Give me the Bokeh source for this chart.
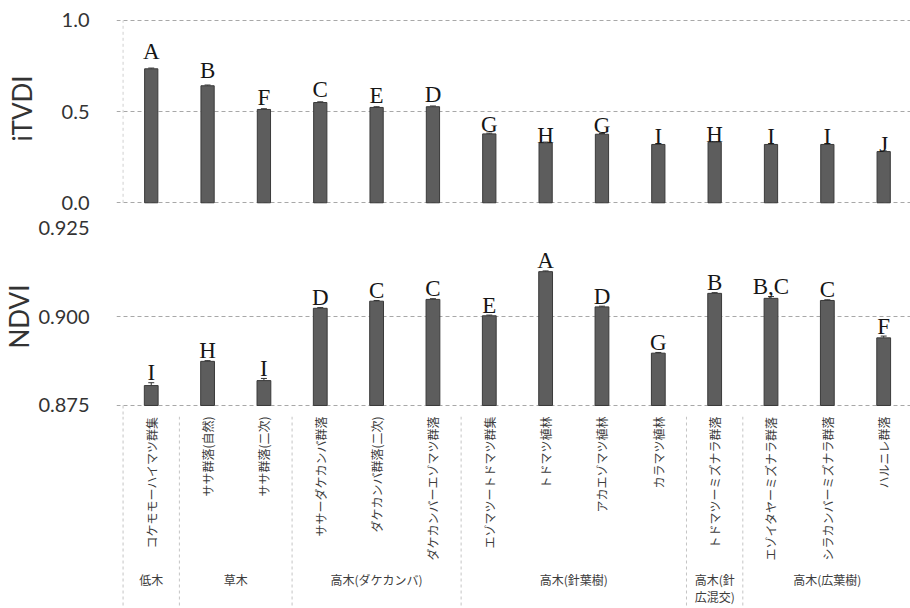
from bokeh.plotting import figure
from bokeh.layouts import column
from bokeh.models import (ColumnDataSource, FixedTicker, Range1d, Whisker,
                          NumeralTickFormatter, TeeHead)
from bokeh.embed import file_html
from bokeh.resources import INLINE
from bokeh.core.properties import value

# ---------------- data ----------------
categories = ["コケモモーハイマツ群集", "ササ群落(自然)", "ササ群落(二次)",
              "ササーダケカンバ群落", "ダケカンバ群落(二次)", "ダケカンバーエゾマツ群落",
              "エゾマツートドマツ群集", "トドマツ植林", "アカエゾマツ植林", "カラマツ植林",
              "トドマツーミズナラ群落", "エゾイタヤーミズナラ群落",
              "シラカンバーミズナラ群落", "ハルニレ群落"]
groups = ["低木", "草木", "高木(ダケカンバ)", "高木(針葉樹)", "高木(針\n広混交)", "高木(広葉樹)"]
group_sizes = [1, 2, 3, 4, 1, 3]

itvdi = [0.735, 0.642, 0.512, 0.550, 0.523, 0.527, 0.378, 0.329, 0.376, 0.320,
         0.332, 0.320, 0.320, 0.281]
itvdi_err = [0.004, 0.004, 0.004, 0.004, 0.004, 0.004, 0.004, 0.004, 0.004, 0.004,
             0.004, 0.004, 0.004, 0.004]
itvdi_letters = ["A", "B", "F", "C", "E", "D", "G", "H", "G", "I", "H", "I", "I", "J"]

ndvi = [0.8806, 0.8874, 0.8820, 0.9023, 0.9043, 0.9048, 0.9002, 0.9126, 0.9027,
        0.8897, 0.9065, 0.9051, 0.9045, 0.8940]
ndvi_err = [0.0008, 0.0002, 0.0006, 0.0002, 0.0002, 0.0002, 0.0002, 0.0002, 0.0002,
            0.0002, 0.0002, 0.0005, 0.0002, 0.0005]
ndvi_letters = ["I", "H", "I", "D", "C", "C", "E", "A", "D", "G", "B", "B,C", "C", "F"]

itvdi_ticks = [0.0, 0.5, 1.0]
ndvi_ticks = [0.875, 0.900, 0.925]

# ---------------- style ----------------
BAR = "#5d5d5d"
BAR_LINE = "#3a3a3a"
GRID = "#a8a8a8"
SERIF = value("Liberation Serif")
SANS = "Lato"
CJK = value("Noto Sans CJK JP")
TXT = "#3c3c3c"

x = list(range(len(categories)))
XR = (-0.6165, 13.476)


def style(p, ticks, fmt, label, label_standoff):
    p.xaxis.visible = False
    p.xgrid.grid_line_color = None
    p.yaxis.ticker = FixedTicker(ticks=ticks)
    p.yaxis.formatter = NumeralTickFormatter(format=fmt)
    p.yaxis.axis_label = label
    p.yaxis.axis_label_text_font = SANS
    p.yaxis.axis_label_text_font_size = "26px"
    p.yaxis.axis_label_text_font_style = "normal"
    p.yaxis.axis_label_text_color = "#333333"
    p.yaxis.axis_label_standoff = label_standoff
    p.yaxis.major_label_text_font = SANS
    p.yaxis.major_label_text_font_size = "20px"
    p.yaxis.major_label_text_color = "#333333"
    p.yaxis.major_label_standoff = 21
    p.yaxis.major_tick_line_color = None
    p.yaxis.minor_tick_line_color = None
    p.yaxis.axis_line_color = None
    p.ygrid.grid_line_color = GRID
    p.ygrid.grid_line_dash = "4 3"
    p.ygrid.grid_line_width = 1
    p.outline_line_color = None
    p.background_fill_color = "white"
    p.border_fill_color = "white"


# ---------------- top panel: iTVDI ----------------
top = figure(width=910, height=216, output_backend="svg", toolbar_location=None,
             x_range=Range1d(*XR), y_range=Range1d(-0.0313, 1.0658),
             min_border_left=110, min_border_right=0, min_border_top=8,
             min_border_bottom=8)
style(top, itvdi_ticks, "0.0", "iTVDI", 21)

src_t = ColumnDataSource(dict(
    x=x, top=itvdi,
    upper=[v + e for v, e in zip(itvdi, itvdi_err)],
    lower=itvdi,
    label_y=[v * 1.13 for v in itvdi],
    letter=itvdi_letters))

top.segment(x0=[-0.5], y0=[itvdi_ticks[0]], x1=[-0.5], y1=[itvdi_ticks[-1]],
            line_color="#d0d0d0", line_dash="3 3", line_width=1)
top.vbar(x="x", top="top", bottom=0, width=0.235, source=src_t,
         fill_color=BAR, line_color=BAR_LINE, line_width=1)
top.add_layout(Whisker(base="x", upper="upper", lower="lower", source=src_t,
                       line_color="#333333", line_width=1,
                       upper_head=TeeHead(size=6, line_color="#333333"),
                       lower_head=None))
top.text(x="x", y="label_y", text="letter", source=src_t,
         text_font=SERIF, text_font_size="23px", text_color="#161616",
         text_align="center", text_baseline="alphabetic")

# ---------------- middle panel: NDVI ----------------
base = ndvi_ticks[0]
mid = figure(width=910, height=200, output_backend="svg", toolbar_location=None,
             x_range=Range1d(*XR), y_range=Range1d(0.87191, 0.92809),
             min_border_left=110, min_border_right=0, min_border_top=0,
             min_border_bottom=0)
style(mid, ndvi_ticks, "0.000", "NDVI", 0)
mid.ygrid.ticker = FixedTicker(ticks=ndvi_ticks[:2])

src_b = ColumnDataSource(dict(
    x=x, top=ndvi,
    upper=[v + e for v, e in zip(ndvi, ndvi_err)],
    lower=ndvi,
    letter=ndvi_letters))

mid.segment(x0=[-0.5], y0=[base], x1=[-0.5], y1=[mid.y_range.start],
            line_color="#c4c4c4", line_dash="3 3", line_width=1)
mid.vbar(x="x", top="top", bottom=base, width=0.245, source=src_b,
         fill_color=BAR, line_color=BAR_LINE, line_width=1)
mid.add_layout(Whisker(base="x", upper="upper", lower="lower", source=src_b,
                       line_color="#333333", line_width=1,
                       upper_head=TeeHead(size=6, line_color="#333333"),
                       lower_head=None))
mid.text(x="x", y="upper", text="letter", source=src_b,
         text_font=SERIF, text_font_size="23px", text_color="#161616",
         text_align="center", text_baseline="alphabetic", y_offset=-10)

# ---------------- category axis (labels + groups) ----------------
lab = figure(width=910, height=192, output_backend="svg", toolbar_location=None,
             x_range=Range1d(*XR), y_range=Range1d(-192, 0),
             min_border_left=110, min_border_right=0, min_border_top=0,
             min_border_bottom=0)
lab.xaxis.visible = False
lab.yaxis.visible = False
lab.grid.grid_line_color = None
lab.outline_line_color = None

src_c = ColumnDataSource(dict(x=x, cat=categories, y0=[0] * len(categories)))
# rotated labels, reading bottom-to-top, ending just under the axis
lab.text(x="x", y="y0", text="cat", source=src_c, angle=1.5708,
         text_font=CJK, text_font_size="12px", text_color=TXT,
         text_align="right", text_baseline="middle", y_offset=0)

bounds = [-0.5]
for s in group_sizes:
    bounds.append(bounds[-1] + s)
lab.segment(x0=bounds, y0=[0] * len(bounds), x1=bounds,
            y1=[lab.y_range.start] * len(bounds),
            line_color="#c4c4c4", line_dash="3 3", line_width=1)

centers = [(bounds[i] + bounds[i + 1]) / 2 for i in range(len(groups))]
lab.text(x=centers, y=[0] * len(groups), text=groups,
         text_font=CJK, text_font_size="12px", text_color=TXT,
         text_align="center", text_baseline="top", y_offset=154,
         text_line_height=1.05)

layout = column(top, mid, lab, spacing=0)
open("out.html", "w").write(file_html(layout, INLINE))
